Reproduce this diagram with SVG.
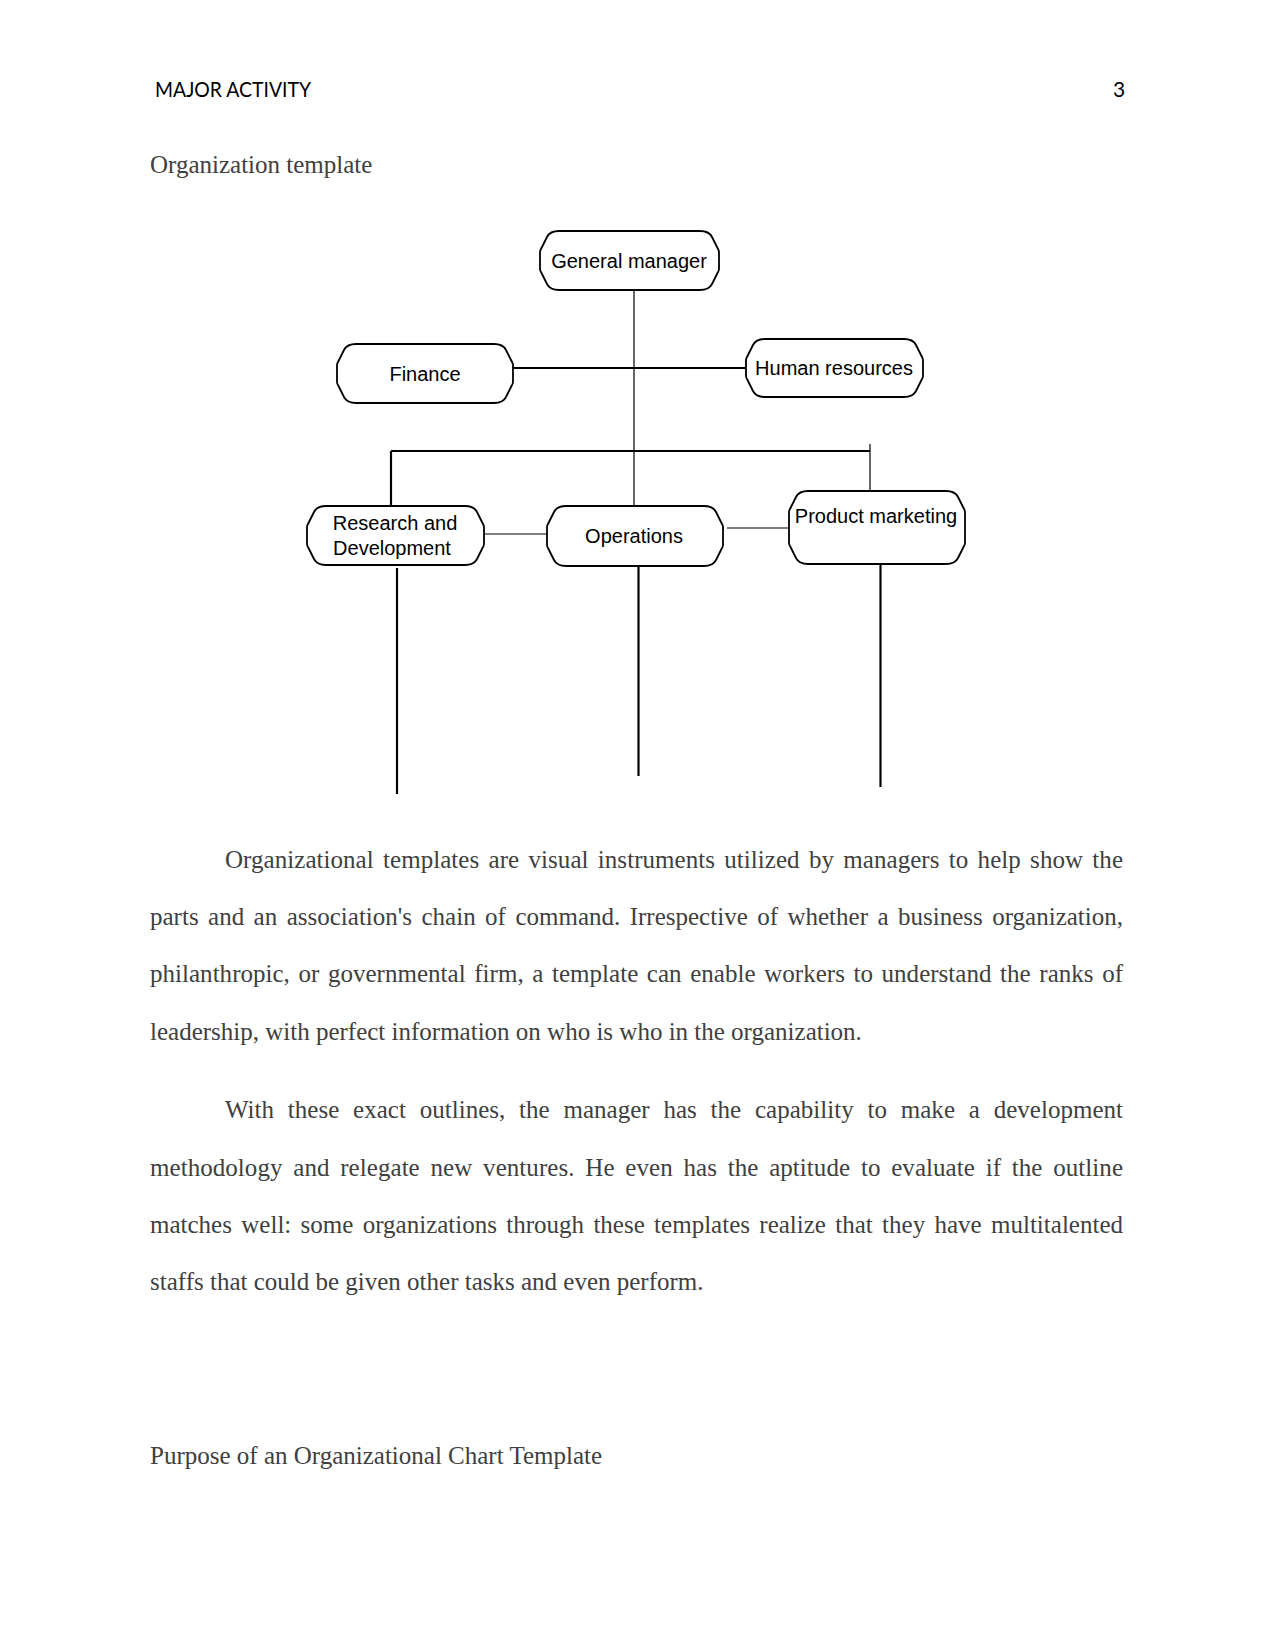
<svg xmlns="http://www.w3.org/2000/svg" width="1275" height="1650" viewBox="0 0 1275 1650">
<style>
.hdr{font-family:"Lato","Liberation Sans",sans-serif;font-size:21px;fill:#000}
.body{font-family:"Liberation Serif","Times New Roman",serif;font-size:25px;fill:#404040}
.lbl{font-family:"Liberation Sans",Arial,sans-serif;font-size:20px;fill:#000;text-anchor:middle}
.box{fill:#fff;stroke:#000;stroke-width:1.8}
.thin{stroke:#000;stroke-width:1.2;fill:none}
.thick{stroke:#000;stroke-width:2.2;fill:none}
</style>
<rect width="1275" height="1650" fill="#fff"/>
<text class="hdr" x="155" y="97" textLength="156" lengthAdjust="spacingAndGlyphs">MAJOR ACTIVITY</text>
<text class="hdr" x="1113" y="97">3</text>
<text class="body" x="150" y="173">Organization template</text>

<g id="connectors">
<line class="thin" x1="634" y1="290" x2="634" y2="506"/>
<line class="thick" x1="513" y1="368" x2="746" y2="368"/>
<line class="thick" x1="391" y1="451" x2="870" y2="451"/>
<line class="thick" x1="391" y1="451" x2="391" y2="506"/>
<line class="thin" x1="870" y1="444" x2="870" y2="498"/>
<line class="thin" x1="484" y1="534" x2="547" y2="534"/>
<line class="thin" x1="727" y1="528" x2="789" y2="528"/>
<line class="thick" x1="397" y1="568" x2="397" y2="794"/>
<line class="thick" x1="638.5" y1="565" x2="638.5" y2="776"/>
<line class="thick" x1="880.5" y1="565" x2="880.5" y2="787"/>
</g>

<g id="general-manager">
<path class="box" d="M559,231 h141 c7,0 10,2 12,6 l5,10 c1,2 2,3 2,5 v17 c0,2 -1,3 -2,5 l-5,10 c-2,4 -5,6 -12,6 h-141 c-7,0 -10,-2 -12,-6 l-5,-10 c-1,-2 -2,-3 -2,-5 v-17 c0,-2 1,-3 2,-5 l5,-10 c2,-4 5,-6 12,-6 z"/>
<text class="lbl" x="629" y="268">General manager</text>
</g>
<g id="finance">
<path class="box" d="M356,344 h138 c7,0 10,2 12,6 l5,10 c1,2 2,3 2,5 v17 c0,2 -1,3 -2,5 l-5,10 c-2,4 -5,6 -12,6 h-138 c-7,0 -10,-2 -12,-6 l-5,-10 c-1,-2 -2,-3 -2,-5 v-17 c0,-2 1,-3 2,-5 l5,-10 c2,-4 5,-6 12,-6 z"/>
<text class="lbl" x="425" y="381">Finance</text>
</g>
<g id="human-resources">
<path class="box" d="M765,339 h139 c7,0 10,2 12,6 l5,10 c1,2 2,3 2,5 v16 c0,2 -1,3 -2,5 l-5,10 c-2,4 -5,6 -12,6 h-139 c-7,0 -10,-2 -12,-6 l-5,-10 c-1,-2 -2,-3 -2,-5 v-16 c0,-2 1,-3 2,-5 l5,-10 c2,-4 5,-6 12,-6 z"/>
<text class="lbl" x="834" y="375">Human resources</text>
</g>
<g id="research-development">
<path class="box" d="M326,506 h139 c7,0 10,2 12,6 l5,10 c1,2 2,3 2,5 v17 c0,2 -1,3 -2,5 l-5,10 c-2,4 -5,6 -12,6 h-139 c-7,0 -10,-2 -12,-6 l-5,-10 c-1,-2 -2,-3 -2,-5 v-17 c0,-2 1,-3 2,-5 l5,-10 c2,-4 5,-6 12,-6 z"/>
<text class="lbl" x="395" y="530">Research and</text>
<text class="lbl" x="392" y="555">Development</text>
</g>
<g id="operations">
<path class="box" d="M566,506 h138 c7,0 10,2 12,6 l5,10 c1,2 2,3 2,5 v18 c0,2 -1,3 -2,5 l-5,10 c-2,4 -5,6 -12,6 h-138 c-7,0 -10,-2 -12,-6 l-5,-10 c-1,-2 -2,-3 -2,-5 v-18 c0,-2 1,-3 2,-5 l5,-10 c2,-4 5,-6 12,-6 z"/>
<text class="lbl" x="634" y="543">Operations</text>
</g>
<g id="product-marketing">
<path class="box" d="M808,491 h138 c7,0 10,2 12,6 l5,10 c1,2 2,3 2,5 v31 c0,2 -1,3 -2,5 l-5,10 c-2,4 -5,6 -12,6 h-138 c-7,0 -10,-2 -12,-6 l-5,-10 c-1,-2 -2,-3 -2,-5 v-31 c0,-2 1,-3 2,-5 l5,-10 c2,-4 5,-6 12,-6 z"/>
<text class="lbl" x="876" y="523">Product marketing</text>
</g>

<text class="body" x="225" y="868" word-spacing="3" textLength="898" lengthAdjust="spacing">Organizational templates are visual instruments utilized by managers to help show the</text>
<text class="body" x="150" y="925" word-spacing="3.2" textLength="973" lengthAdjust="spacing">parts and an association's chain of command. Irrespective of whether a business organization,</text>
<text class="body" x="150" y="982" word-spacing="2.3" textLength="973" lengthAdjust="spacing">philanthropic, or governmental firm, a template can enable workers to understand the ranks of</text>
<text class="body" x="150" y="1040">leadership, with perfect information on who is who in the organization.</text>

<text class="body" x="225" y="1118" word-spacing="7.5" textLength="898" lengthAdjust="spacing">With these exact outlines, the manager has the capability to make a development</text>
<text class="body" x="150" y="1176" word-spacing="4.46" textLength="973" lengthAdjust="spacing">methodology and relegate new ventures. He even has the aptitude to evaluate if the outline</text>
<text class="body" x="150" y="1233" word-spacing="3.05" textLength="973" lengthAdjust="spacing">matches well: some organizations through these templates realize that they have multitalented</text>
<text class="body" x="150" y="1290">staffs that could be given other tasks and even perform.</text>

<text class="body" x="150" y="1464">Purpose of an Organizational Chart Template</text>
</svg>
